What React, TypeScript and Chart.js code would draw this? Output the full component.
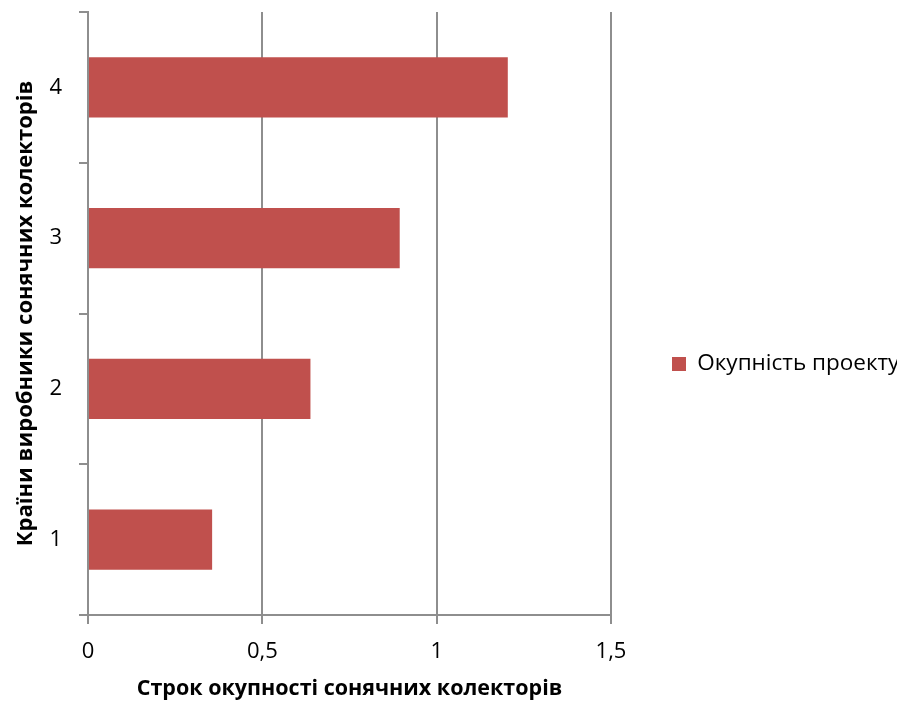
import React, { useEffect, useRef } from "react";
import { Chart, registerables } from "chart.js";

Chart.register(...registerables);

const categories = ["1", "2", "3", "4"];
const seriesLabel = "Окупність проекту";
const paybackValues = [0.356, 0.638, 0.894, 1.204];
const xTickValues = [0, 0.5, 1, 1.5];
const xTickLabels = ["0", "0,5", "1", "1,5"];
const xTitle = "Строк окупності сонячних колекторів";
const yTitle = "Країни виробники сонячних колекторів";

const W = 907;
const H = 707;
const AREA_LEFT = 88;
const AREA_RIGHT = 611;
const AREA_BOTTOM = 615;
const PAD = { left: 13, right: 10, top: 12, bottom: 5 };
const LEGEND_SHIFT = 7;
const FONT = "'Open Sans', 'Noto Sans', sans-serif";
const GRID = "#8e8e8e";

export default function App() {
  const ref = useRef<HTMLCanvasElement | null>(null);

  useEffect(() => {
    if (!ref.current) return;
    const legendFix = {
      id: "legendFix",
      beforeLayout(chart: any) {
        const lg = chart.legend;
        if (lg && !lg.__patched) {
          const orig = lg.fit.bind(lg);
          lg.fit = () => {
            orig();
            lg.width = W - PAD.right - AREA_RIGHT;
          };
          lg.__patched = true;
        }
      },
      afterLayout(chart: any) {
        const lg = chart.legend;
        if (lg) {
          lg.top += LEGEND_SHIFT;
          lg.bottom += LEGEND_SHIFT;
        }
      },
    };
    const chart = new Chart(ref.current, {
      type: "bar",
      data: {
        labels: categories,
        datasets: [
          {
            label: seriesLabel,
            data: paybackValues,
            backgroundColor: "#C0504D",
            borderWidth: 0,
            barPercentage: 0.4,
            categoryPercentage: 1,
          },
        ],
      },
      options: {
        indexAxis: "y",
        responsive: false,
        animation: false,
        layout: { padding: PAD },
        plugins: {
          tooltip: { enabled: false },
          legend: {
            display: true,
            position: "right",
            labels: {
              boxWidth: 14,
              boxHeight: 14,
              padding: 61,
              color: "#000",
              font: { family: FONT, size: 22.5 },
            },
          },
        },
        scales: {
          x: {
            type: "linear",
            min: 0,
            max: 1.5,
            afterBuildTicks: (s: any) => {
              s.ticks = xTickValues.map((v) => ({ value: v }));
            },
            afterFit: (s: any) => {
              s.height = H - PAD.bottom - AREA_BOTTOM;
            },
            grid: {
              color: GRID,
              lineWidth: 2,
              drawTicks: true,
              tickLength: 9,
              tickColor: GRID,
            },
            border: { display: true, color: GRID, width: 2 },
            ticks: {
              color: "#000",
              padding: 15,
              font: { family: FONT, size: 22 },
              callback: (v: any) => {
                const i = xTickValues.indexOf(Number(v));
                return i >= 0 ? xTickLabels[i] : "";
              },
            },
            title: {
              display: true,
              text: xTitle,
              color: "#000",
              padding: { top: 0, bottom: 0 },
              font: { family: FONT, size: 21.5, weight: "bold" },
            },
          },
          y: {
            reverse: true,
            afterFit: (s: any) => {
              s.width = AREA_LEFT - PAD.left;
              s.paddingTop = 0;
              s.paddingBottom = 0;
            },
            grid: {
              offset: true,
              drawOnChartArea: false,
              drawTicks: true,
              tickLength: 9,
              tickColor: GRID,
              lineWidth: 2,
            },
            border: { display: true, color: GRID, width: 2 },
            ticks: {
              color: "#000",
              padding: 17,
              font: { family: FONT, size: 22 },
            },
            title: {
              display: true,
              text: yTitle,
              color: "#000",
              padding: { top: 0, bottom: 0 },
              font: { family: FONT, size: 22, weight: "bold" },
            },
          },
        },
      },
      plugins: [legendFix],
    });
    return () => chart.destroy();
  }, []);

  return (
    <div style={{ position: "absolute", left: 0, top: 0, width: W, height: H, background: "#fff" }}>
      <canvas ref={ref} width={W} height={H} style={{ width: W, height: H, display: "block" }} />
    </div>
  );
}
